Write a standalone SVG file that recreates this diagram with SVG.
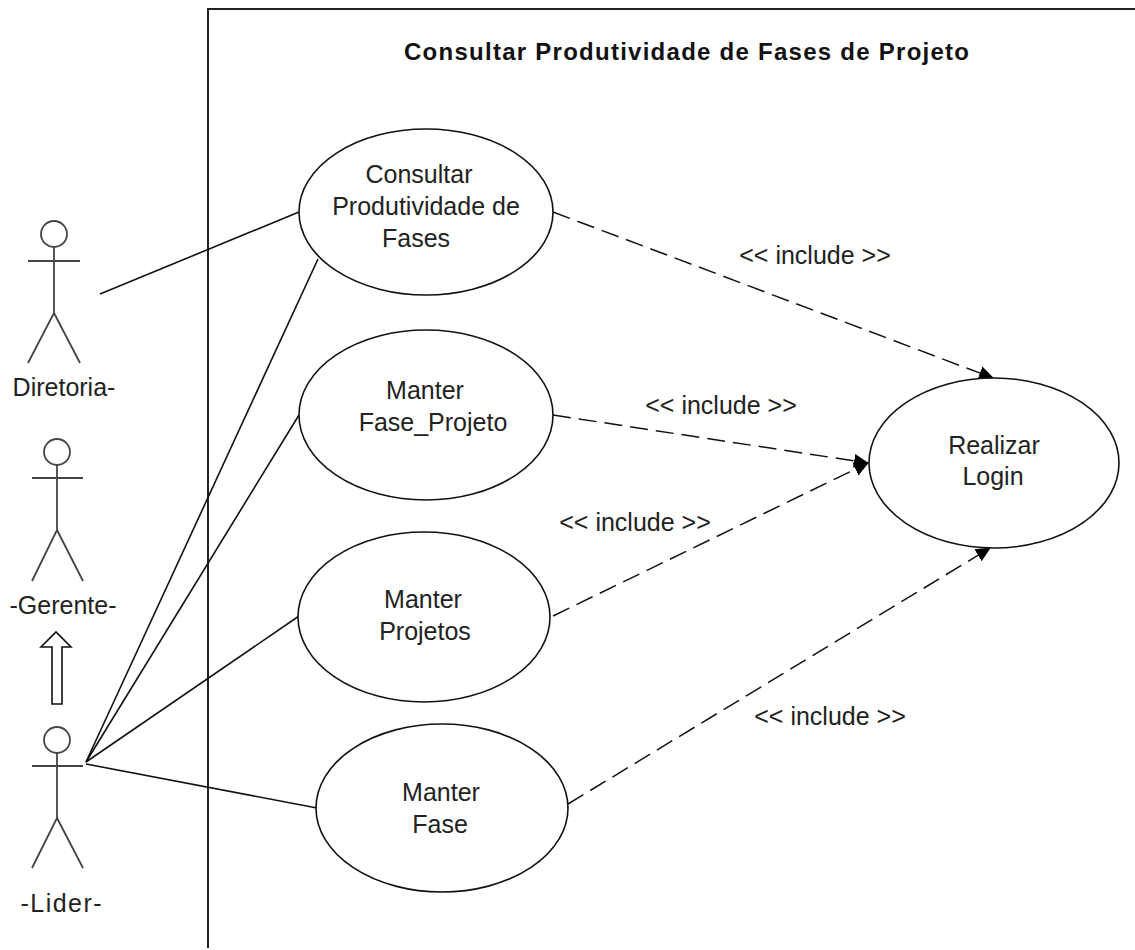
<svg xmlns="http://www.w3.org/2000/svg" width="1135" height="950" viewBox="0 0 1135 950">
<defs>
<marker id="arr" markerUnits="userSpaceOnUse" markerWidth="16" markerHeight="16" refX="14" refY="8" orient="auto"><path d="M0 1 L15 8 L0 15 Z" fill="#000"/></marker>
</defs>
<style>
text{font-family:"Liberation Sans",Arial,sans-serif;font-size:25px;fill:#222;text-anchor:middle}
.t{font-weight:bold;font-size:24px;fill:#111;text-anchor:start}
.s{fill:none;stroke:#444;stroke-width:1.8}
.e{fill:#fff;stroke:#111;stroke-width:1.6}
.c{fill:none;stroke:#111;stroke-width:1.6}
.b{fill:none;stroke:#222;stroke-width:2}
.d{fill:none;stroke:#111;stroke-width:1.5;stroke-dasharray:18 8;marker-end:url(#arr)}
</style>
<rect width="1135" height="950" fill="#fff"/>
<g id="boundary"><path class="b" d="M208 948V9H1135"/><text class="t" x="404" y="60" textLength="565">Consultar Produtividade de Fases de Projeto</text></g>
<g id="connectors">
<path class="c" d="M100 294L299 212"/>
<path class="c" d="M86 762L318 259"/>
<path class="c" d="M86 762L299 415"/>
<path class="c" d="M86 762L299 616"/>
<path class="c" d="M86 764L317 808"/>
<path class="d" d="M553 212L993 378"/>
<path class="d" d="M553 415L868 463"/>
<path class="d" d="M553 616L868 463"/>
<path class="d" d="M568 804L990 548"/>
</g>
<g id="arrow-lider-gerente"><path class="c" d="M52 704H62V647H71L56 632L41 647H52Z"/></g>
<g id="actor-diretoria"><circle class="s" cx="54" cy="234" r="13"/><path class="s" d="M28 261H80M54 247V313L28 363M54 313L80 363"/><text x="64" y="396">Diretoria-</text></g>
<g id="actor-gerente"><circle class="s" cx="57" cy="452" r="13"/><path class="s" d="M32 478H83M57 465V530L32 581M57 530L83 581"/><text x="63" y="614">-Gerente-</text></g>
<g id="actor-lider"><circle class="s" cx="57" cy="740" r="13"/><path class="s" d="M32 766H83M57 753V818L32 868M57 818L83 868"/><text x="61" y="912" textLength="81">-Lider-</text></g>
<g id="uc-consultar"><ellipse class="e" cx="426" cy="212" rx="127" ry="83"/><text x="419" y="183">Consultar</text><text x="426" y="215">Produtividade de</text><text x="416" y="247">Fases</text></g>
<g id="uc-fase-projeto"><ellipse class="e" cx="426" cy="415" rx="127" ry="85"/><text x="425" y="399">Manter</text><text x="433" y="431">Fase_Projeto</text></g>
<g id="uc-projetos"><ellipse class="e" cx="424" cy="617" rx="126" ry="85"/><text x="423" y="608">Manter</text><text x="425" y="640">Projetos</text></g>
<g id="uc-fase"><ellipse class="e" cx="442" cy="808" rx="126" ry="84"/><text x="441" y="801">Manter</text><text x="440" y="833">Fase</text></g>
<g id="uc-login"><ellipse class="e" cx="994" cy="463" rx="125" ry="85"/><text x="994" y="454">Realizar</text><text x="993" y="485">Login</text></g>
<g id="labels"><text x="815" y="264">&lt;&lt; include &gt;&gt;</text><text x="721" y="414">&lt;&lt; include &gt;&gt;</text><text x="635" y="531">&lt;&lt; include &gt;&gt;</text><text x="830" y="725">&lt;&lt; include &gt;&gt;</text></g>
</svg>
